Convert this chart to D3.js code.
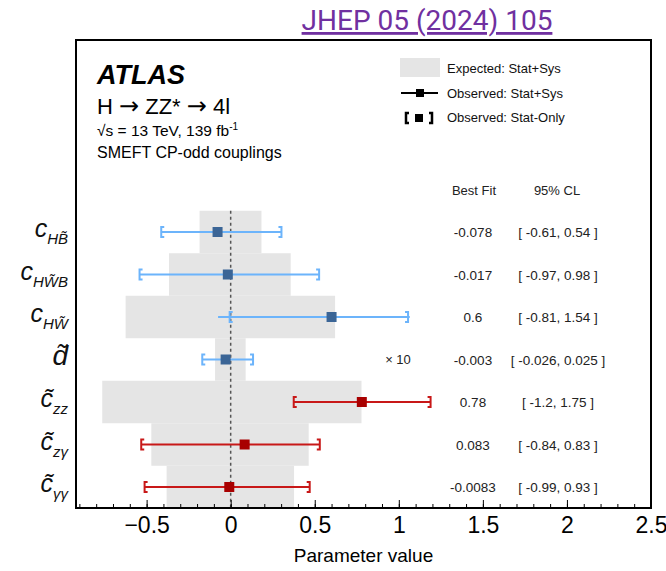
<!DOCTYPE html>
<meta charset="utf-8">
<script src="https://d3js.org/d3.v7.min.js"></script>
<style>
  body { margin: 0; background: #fff; }
  svg text { font-family: "Liberation Sans", Arial, sans-serif; }
</style>
<svg width="666" height="571"></svg>
<script>

    // parameters, top to bottom
    const params = ["cHB", "cHWB", "cHW", "d", "czz", "czg", "cgg"];
    const labelMain = ["c", "c", "c", "d\u0303", "c\u0303", "c\u0303", "c\u0303"];
    const labelSub = ["HB\u0303", "HW\u0303B", "HW\u0303", "", "zz", "z\u03b3", "\u03b3\u03b3"];
    const bestFit = [-0.078, -0.017, 0.6, -0.003, 0.78, 0.083, -0.0083];
    const plotFactor = [1, 1, 1, 10, 1, 1, 1];
    // expected stat+sys band (plotted units)
    const expLo = [-0.185, -0.367, -0.625, -0.093, -0.764, -0.472, -0.381];
    const expHi = [0.183, 0.357, 0.621, 0.089, 0.778, 0.464, 0.377];
    // observed stat+sys line
    const sysLo = [-0.413, -0.542, -0.075, -0.169, 0.375, -0.532, -0.512];
    const sysHi = [0.302, 0.526, 1.065, 0.133, 1.189, 0.530, 0.470];
    // observed stat-only brackets
    const statLo = [-0.413, -0.542, -0.006, -0.169, 0.375, -0.532, -0.512];
    const statHi = [0.302, 0.526, 1.055, 0.133, 1.189, 0.530, 0.470];
    const bestFitText = ["-0.078", "-0.017", "0.6", "-0.003", "0.78", "0.083", "-0.0083"];
    const clText = ["[ -0.61, 0.54 ]", "[ -0.97, 0.98 ]", "[ -0.81, 1.54 ]", "[ -0.026, 0.025 ]",
        "[ -1.2, 1.75 ]", "[ -0.84, 0.83 ]", "[ -0.99, 0.93 ]"];
    const group = ["hb", "hb", "hb", "hb", "v", "v", "v"];
    const xTicks = [-0.5, 0, 0.5, 1, 1.5, 2, 2.5];

    const lineColor = {hb: "#6cb4fb", v: "#c81818"};
    const markColor = {hb: "#3b6596", v: "#a80000"};

    const data = params.map((p, i) => ({
        id: p, main: labelMain[i], sub: labelSub[i],
        fit: bestFit[i] * plotFactor[i],
        expLo: expLo[i], expHi: expHi[i],
        sysLo: sysLo[i], sysHi: sysHi[i],
        statLo: statLo[i], statHi: statHi[i],
        fitText: bestFitText[i], cl: clText[i], g: group[i]
    }));

    const frame = {left: 76, right: 651, top: 40, bottom: 508};

    const x = d3.scaleLinear()
        .domain([-0.92, 2.5])
        .range([frame.left, frame.right]);

    const y = d3.scaleBand()
        .domain(params)
        .range([210.75, 508.25])
        .padding(0);

    const svg = d3.select('svg');

    // reference link
    svg.append('text')
        .attr('x', 427).attr('y', 30)
        .attr('text-anchor', 'middle')
        .style('font-family', 'Roboto, sans-serif')
        .style('font-size', '28px')
        .style('fill', '#7030a0')
        .style('text-decoration', 'underline')
        .text('JHEP 05 (2024) 105');

    // expected bands
    svg.selectAll('rect.exp')
        .data(data)
        .enter().append('rect')
        .attr('class', 'exp')
        .attr('x', d => x(d.expLo))
        .attr('width', d => x(d.expHi) - x(d.expLo))
        .attr('y', d => y(d.id))
        .attr('height', y.bandwidth())
        .attr('fill', '#e5e5e5');

    // zero line
    svg.append('line')
        .attr('x1', x(0)).attr('x2', x(0))
        .attr('y1', y.range()[0]).attr('y2', frame.bottom)
        .attr('stroke', '#555')
        .attr('stroke-width', 1.5)
        .attr('stroke-dasharray', '3,3');

    const cy = d => y(d.id) + y.bandwidth() / 2;

    // stat+sys line
    svg.selectAll('line.sys')
        .data(data)
        .enter().append('line')
        .attr('x1', d => x(d.sysLo)).attr('x2', d => x(d.sysHi))
        .attr('y1', cy).attr('y2', cy)
        .attr('stroke', d => lineColor[d.g])
        .attr('stroke-width', 2);

    // stat-only brackets
    function bracket(xp, yc, dir) {
        const h = 5, s = 3 * dir;
        return `M${xp + s},${yc - h}H${xp}V${yc + h}H${xp + s}`;
    }
    svg.selectAll('path.stat')
        .data(data)
        .enter().append('path')
        .attr('d', d => bracket(x(d.statLo), cy(d), 1) + bracket(x(d.statHi), cy(d), -1))
        .attr('fill', 'none')
        .attr('stroke', d => lineColor[d.g])
        .attr('stroke-width', 2);

    // best fit markers
    svg.selectAll('rect.fit')
        .data(data)
        .enter().append('rect')
        .attr('x', d => x(d.fit) - 5)
        .attr('y', d => cy(d) - 5)
        .attr('width', 10).attr('height', 10)
        .attr('fill', d => markColor[d.g]);

    // x10 note for d
    svg.append('text')
        .attr('x', 398).attr('y', cy(data[3]) + 4)
        .attr('text-anchor', 'middle')
        .style('font-size', '13px').style('fill', '#222')
        .text('\u00d7 10');

    // table
    svg.append('text').attr('x', 474).attr('y', 195)
        .attr('text-anchor', 'middle').style('font-size', '13px').style('fill', '#222')
        .text('Best Fit');
    svg.append('text').attr('x', 557).attr('y', 195)
        .attr('text-anchor', 'middle').style('font-size', '13px').style('fill', '#222')
        .text('95% CL');
    svg.selectAll('text.fitv')
        .data(data)
        .enter().append('text')
        .attr('x', 473).attr('y', d => cy(d) + 5)
        .attr('text-anchor', 'middle')
        .style('font-size', '13.5px').style('fill', '#222')
        .text(d => d.fitText);
    svg.selectAll('text.clv')
        .data(data)
        .enter().append('text')
        .attr('x', 558).attr('y', d => cy(d) + 5)
        .attr('text-anchor', 'middle')
        .style('font-size', '13.5px').style('fill', '#222')
        .text(d => d.cl);

    // row labels
    const lab = svg.selectAll('text.lab')
        .data(data)
        .enter().append('text')
        .attr('x', 68).attr('y', d => cy(d) + 5)
        .attr('text-anchor', 'end')
        .style('font-style', 'italic')
        .style('fill', '#111');
    lab.append('tspan')
        .style('font-size', d => d.sub ? '25px' : '28px')
        .text(d => d.main);
    lab.append('tspan')
        .attr('dy', 7)
        .style('font-size', '15px')
        .text(d => d.sub);

    // axis: minor and major ticks pointing inward
    const gx = svg.append('g')
        .attr('transform', `translate(0,${frame.bottom})`);
    gx.append('g')
        .call(d3.axisBottom(x).tickValues(d3.range(-9, 26).map(v => v / 10)).tickSize(-4).tickFormat(''))
        .call(g => g.select('.domain').remove())
        .call(g => g.selectAll('line').attr('stroke', '#000'));
    gx.append('g')
        .call(d3.axisBottom(x).tickValues(xTicks).tickSize(-8).tickPadding(9).tickFormat(d3.format('~g')))
        .call(g => g.select('.domain').remove())
        .call(g => g.selectAll('line').attr('stroke', '#000'))
        .call(g => g.selectAll('text')
            .style('font-size', '23px')
            .style('font-family', '"Liberation Sans", Arial, sans-serif')
            .attr('fill', '#000'));

    svg.append('text')
        .attr('x', (frame.left + frame.right) / 2).attr('y', 562)
        .attr('text-anchor', 'middle')
        .style('font-size', '19px')
        .text('Parameter value');

    // frame
    svg.append('rect')
        .attr('x', frame.left).attr('y', frame.top)
        .attr('width', frame.right - frame.left)
        .attr('height', frame.bottom - frame.top)
        .attr('fill', 'none')
        .attr('stroke', '#000')
        .attr('stroke-width', 2);

    // ATLAS header
    svg.append('text').attr('x', 97).attr('y', 84)
        .style('font-size', '27px').style('font-weight', 'bold').style('font-style', 'italic')
        .text('ATLAS');
    const proc = svg.append('text').attr('x', 97).attr('y', 114)
        .style('font-size', '22px');
    const procParts = ['H ', '\u2192', ' ZZ* ', '\u2192', ' 4l'];
    procParts.forEach(t => {
        const ts = proc.append('tspan').text(t);
        if (t === '\u2192') ts.style('font-family', '"DejaVu Sans", sans-serif').style('font-size', '24px');
    });
    const lumi = svg.append('text').attr('x', 97).attr('y', 136)
        .style('font-size', '15.5px');
    lumi.append('tspan').text('\u221as = 13 TeV, 139 fb');
    lumi.append('tspan').attr('dy', -6).style('font-size', '10px').text('-1');
    svg.append('text').attr('x', 97).attr('y', 158)
        .style('font-size', '16px')
        .text('SMEFT CP-odd couplings');

    // legend
    const leg = svg.append('g');
    leg.append('rect').attr('x', 400).attr('y', 58).attr('width', 40).attr('height', 19).attr('fill', '#e5e5e5');
    leg.append('line').attr('x1', 401).attr('x2', 438).attr('y1', 93).attr('y2', 93)
        .attr('stroke', '#000').attr('stroke-width', 2);
    leg.append('rect').attr('x', 416).attr('y', 89).attr('width', 8).attr('height', 8).attr('fill', '#000');
    leg.append('path')
        .attr('d', bracket(406, 118, 1) + bracket(432, 118, -1))
        .attr('fill', 'none').attr('stroke', '#000').attr('stroke-width', 2.5);
    leg.append('rect').attr('x', 415).attr('y', 114).attr('width', 8).attr('height', 8).attr('fill', '#000');
    const legText = ['Expected: Stat+Sys', 'Observed: Stat+Sys', 'Observed: Stat-Only'];
    leg.selectAll('text.lt')
        .data(legText)
        .enter().append('text')
        .attr('x', 447).attr('y', (d, i) => 73 + i * 24.5)
        .style('font-size', '13px').style('fill', '#111')
        .text(d => d);

</script>
